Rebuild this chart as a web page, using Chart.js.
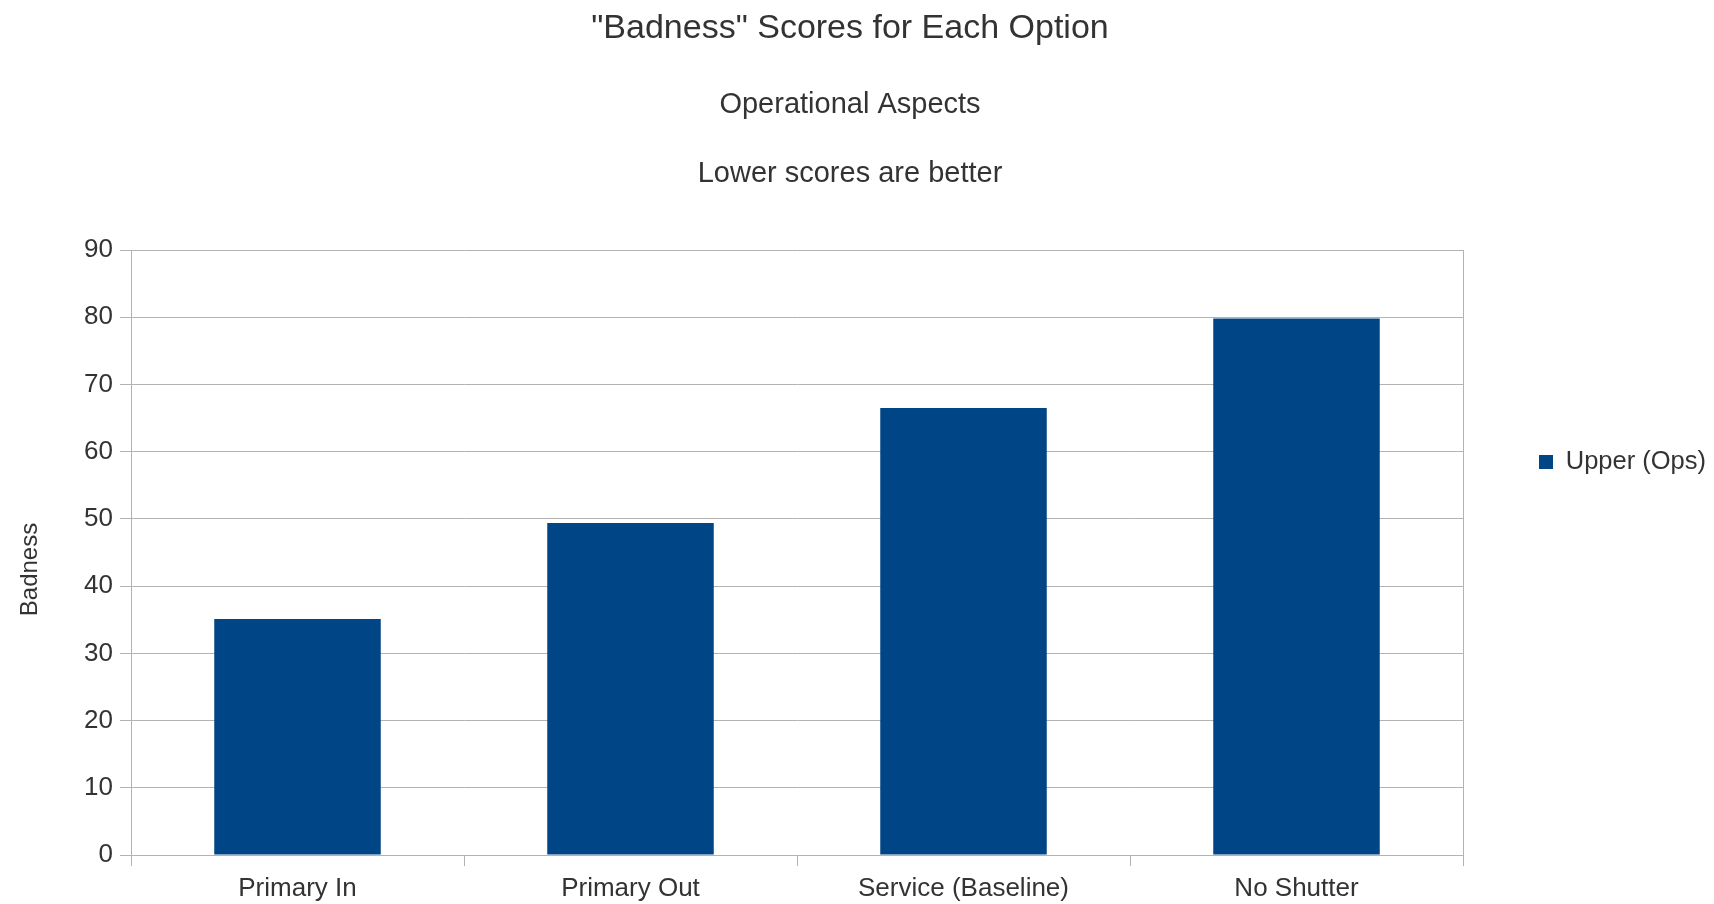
<!DOCTYPE html>
<html>
<head>
<meta charset="utf-8">
<script src="https://cdn.jsdelivr.net/npm/chart.js@4"></script>
<style>
  html, body { margin: 0; padding: 0; background: #ffffff; }
  #wrap { width: 1714px; height: 904px; position: relative; }
</style>
</head>
<body>
<div id="wrap"><canvas id="c"></canvas></div>
<script>
const categories = ["Primary In", "Primary Out", "Service (Baseline)", "No Shutter"];
const seriesName = "Upper (Ops)";
const seriesValues = [35.1, 49.4, 66.5, 79.8];
const titleText = "\"Badness\" Scores for Each Option";
const subtitleLines = ["Operational Aspects", "Lower scores are better"];
const yAxisTitle = "Badness";
const yMin = 0, yMax = 90, yStep = 10;

const TEXT = '#333333';
const GRID = '#b3b3b3';
const FONT = 'Liberation Sans, Arial, sans-serif';

// Draws the rotated y-axis title at the position it has in the reference
const yTitlePlugin = {
  id: 'yTitle',
  afterDraw(chart) {
    const ctx = chart.ctx;
    const area = chart.chartArea;
    ctx.save();
    ctx.fillStyle = TEXT;
    ctx.font = '24px ' + FONT;
    ctx.textAlign = 'center';
    ctx.textBaseline = 'middle';
    ctx.translate(30, (area.top + area.bottom) / 2 + 17);
    ctx.rotate(-Math.PI / 2);
    ctx.fillText(yAxisTitle, 0, 0);
    ctx.restore();
  }
};

// Title block in the reference is centred slightly left of the page centre
const titleShiftPlugin = {
  id: 'titleShift',
  afterLayout(chart) {
    chart.boxes.forEach((b) => {
      if (b.options && b.options.position === 'top' && b.options.text !== undefined) {
        b.left -= 7;
        b.right -= 7;
      }
    });
  }
};

new Chart(document.getElementById('c'), {
  type: 'bar',
  data: {
    labels: categories,
    datasets: [{
      label: seriesName,
      data: seriesValues,
      backgroundColor: '#004586',
      borderWidth: 0,
      barPercentage: 0.5,
      categoryPercentage: 1.0
    }]
  },
  plugins: [yTitlePlugin, titleShiftPlugin],
  options: {
    responsive: true,
    maintainAspectRatio: false,
    animation: false,
    layout: { padding: { top: 20, left: 0, right: 0, bottom: 0 } },
    plugins: {
      title: {
        display: true,
        text: titleText,
        color: TEXT,
        font: { family: FONT, size: 34, weight: 'normal', lineHeight: 1.2 },
        padding: { top: -12, bottom: 0 }
      },
      subtitle: {
        display: true,
        text: subtitleLines,
        color: TEXT,
        font: { family: FONT, size: 29, weight: 'normal', lineHeight: 69 / 29 },
        padding: { top: 21.7, bottom: 41.5 }
      },
      legend: {
        display: true,
        position: 'right',
        align: 'center',
        maxWidth: 175,
        labels: {
          color: TEXT,
          font: { family: FONT, size: 25.5 },
          boxWidth: 14,
          boxHeight: 14,
          padding: 0
        }
      },
      tooltip: { enabled: false }
    },
    scales: {
      x: {
        type: 'category',
        grid: { offset: true, drawOnChartArea: false, drawTicks: true, tickLength: 11, color: GRID },
        border: { display: true, color: GRID },
        ticks: { color: TEXT, font: { family: FONT, size: 26 }, padding: 7, maxRotation: 0, autoSkip: false },
        afterFit: (s) => { s.height = 49; }
      },
      y: {
        type: 'linear',
        position: 'left',
        min: yMin,
        max: yMax,
        ticks: { stepSize: yStep, color: TEXT, font: { family: FONT, size: 26 }, padding: 7 },
        grid: { color: GRID, tickLength: 11 },
        border: { display: true, color: GRID },
        title: { display: false },
        afterFit: (s) => { s.width = 131; }
      },
      y2: {
        type: 'linear',
        position: 'right',
        min: yMin,
        max: yMax,
        ticks: { display: false },
        grid: { display: false, drawTicks: false },
        border: { display: true, color: GRID },
        afterFit: (s) => { s.width = 76; }
      }
    }
  }
});
</script>
</body>
</html>
